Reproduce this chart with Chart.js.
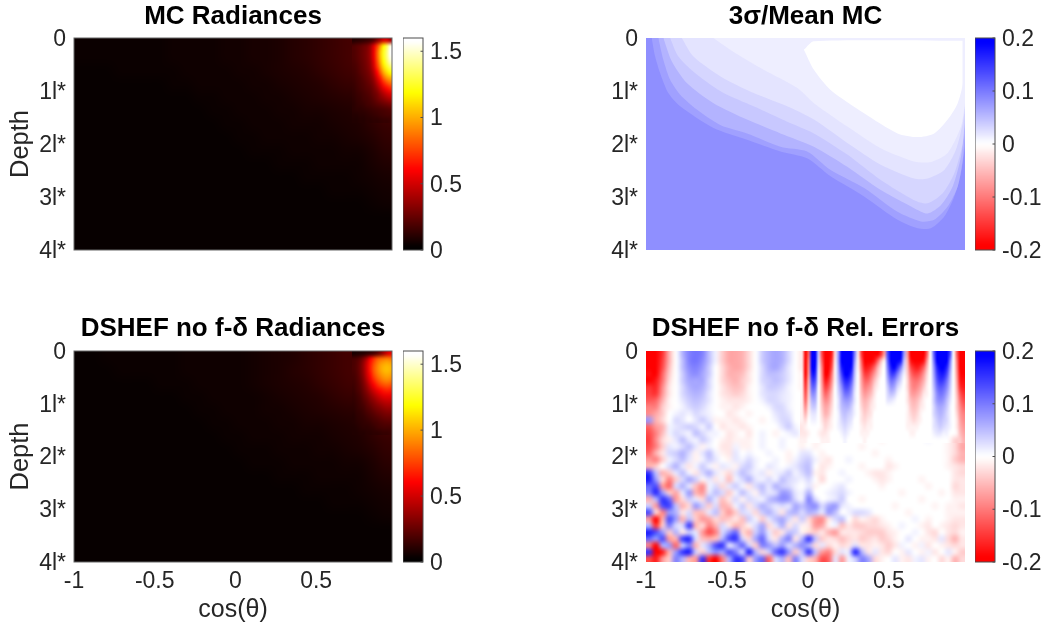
<!DOCTYPE html>
<html><head><meta charset="utf-8">
<style>html,body{margin:0;padding:0;background:#fff;width:1045px;height:628px;overflow:hidden}canvas{position:absolute;display:block}</style>
<script src="https://cdn.jsdelivr.net/npm/chart.js@4"></script>
</head><body>
<script>
const titles = ["MC Radiances", "3σ/Mean MC", "DSHEF no f-δ Radiances", "DSHEF no f-δ Rel. Errors"];
const depthTickLabels = ["0", "1l*", "2l*", "3l*", "4l*"];
const xAxisLabel = "cos(θ)";
const yAxisLabel = "Depth";

// Colour-bar levels, top to bottom
const hotLevels = [1.6,1.55,1.5,1.45,1.4,1.35,1.3,1.25,1.2,1.15,1.1,1.05,1,0.95,0.9,0.85,0.8,0.75,0.7,0.65,0.6,0.55,0.5,0.45,0.4,0.35,0.3,0.25,0.2,0.15,0.1,0.05,0];
const bwrLevels = [20,18,16,14,12,10,8,6,4,2,0,-2,-4,-6,-8,-10,-12,-14,-16,-18,-20];

// Radiances, hundredths: whole panel, cos -1..0.97, depth 0..4
const mcCoarse = [
[2,2,2,2,2,2,2,3,3,3,3,4,4,5,5,6,8,9,11,13,15,17,30,90],
[2,2,2,2,2,2,2,3,3,3,3,4,4,5,5,6,8,9,11,13,15,18,30,100],
[1,1,1,2,2,2,2,2,3,3,3,3,4,4,5,6,7,8,10,12,14,16,28,70],
[1,1,1,1,1,1,1,2,2,3,3,3,3,4,4,5,6,7,8,10,12,13,22,50],
[1,1,1,1,1,1,1,1,1,2,2,3,3,3,4,4,5,6,7,8,9,10,18,32],
[1,1,1,1,1,1,1,1,1,1,2,2,3,3,3,4,4,5,5,6,7,8,12,18],
[1,1,1,1,1,1,1,1,1,1,1,2,2,3,3,3,4,4,4,5,6,7,10,13],
[1,1,1,1,1,1,1,1,1,1,1,1,2,2,3,3,3,3,4,4,5,6,8,11],
[1,1,1,1,1,1,1,1,1,1,1,1,1,2,2,2,3,3,3,3,4,4,6,9],
[1,1,1,1,1,1,1,1,1,1,1,1,1,1,1,2,2,2,3,3,3,3,5,7],
[1,1,1,1,1,1,1,1,1,1,1,1,1,1,1,1,1,2,2,2,2,3,4,5],
[1,1,1,1,1,1,1,1,1,1,1,1,1,1,1,1,1,1,1,2,2,2,3,4],
[1,1,1,1,1,1,1,1,1,1,1,1,1,1,1,1,1,1,1,1,1,1,2,3],
[1,1,1,1,1,1,1,1,1,1,1,1,1,1,1,1,1,1,1,1,1,1,1,1],
[1,1,1,1,1,1,1,1,1,1,1,1,1,1,1,1,1,1,1,1,1,1,1,1],
[1,1,1,1,1,1,1,1,1,1,1,1,1,1,1,1,1,1,1,1,1,1,1,1]];
// Hot-spot corner, hundredths: cos 0.722..0.97, depth 0..1.6
const mcCorner = [
[8,9,10,11,13,15,20,30,40,50,50,40],
[18,20,22,25,28,36,52,72,95,118,135,155],
[18,20,23,26,30,38,55,80,105,125,140,160],
[18,20,23,26,30,38,55,80,105,125,140,158],
[17,19,22,25,29,36,52,76,100,120,135,150],
[16,18,21,24,28,34,48,70,92,112,125,135],
[15,17,20,23,26,31,42,60,80,100,112,120],
[14,16,18,21,24,28,36,50,66,84,96,102],
[13,15,17,19,22,25,31,42,54,68,78,85],
[12,14,16,18,20,22,27,34,44,54,62,68],
[11,13,14,16,18,20,24,28,35,42,48,52],
[10,12,13,15,16,18,21,25,29,33,37,40],
[9,11,12,13,15,16,18,20,22,24,26,28],
[9,10,10,11,12,13,14,15,16,17,18,19],
[8,8,9,9,10,11,12,13,14,15,16,16],
[7,7,8,8,9,9,10,10,11,12,12,13]];
const dsCoarse = [
[1,1,2,2,2,2,2,2,3,3,3,3,3,4,5,6,7,9,11,13,15,16,30,70],
[1,1,1,2,2,2,2,2,3,3,3,3,3,4,5,6,8,9,11,13,15,17,30,80],
[1,1,1,1,1,1,2,2,2,3,3,3,3,4,5,6,7,8,10,12,14,16,28,60],
[1,1,1,1,1,1,1,1,2,2,3,3,3,3,4,5,6,7,8,10,12,13,22,45],
[1,1,1,1,1,1,1,1,1,2,2,3,3,3,4,4,5,6,7,8,9,10,18,30],
[1,1,1,1,1,1,1,1,1,1,2,2,3,3,3,4,4,5,5,6,7,8,12,18],
[1,1,1,1,1,1,1,1,1,1,1,2,2,3,3,3,4,4,4,5,6,7,10,13],
[1,1,1,1,1,1,1,1,1,1,1,1,2,2,2,3,3,3,4,4,5,6,8,11],
[1,1,1,1,1,1,1,1,1,1,1,1,1,2,2,2,3,3,3,3,4,4,6,9],
[1,1,1,1,1,1,1,1,1,1,1,1,1,1,1,2,2,2,3,3,3,3,5,7],
[1,1,1,1,1,1,1,1,1,1,1,1,1,1,1,1,1,2,2,2,2,3,4,5],
[1,1,1,1,1,1,1,1,1,1,1,1,1,1,1,1,1,1,1,2,2,2,3,4],
[1,1,1,1,1,1,1,1,1,1,1,1,1,1,1,1,1,1,1,1,1,1,2,3],
[1,1,1,1,1,1,1,1,1,1,1,1,1,1,1,1,1,1,1,1,1,1,1,1],
[1,1,1,1,1,1,1,1,1,1,1,1,1,1,1,1,1,1,1,1,1,1,1,1],
[1,1,1,1,1,1,1,1,1,1,1,1,1,1,1,1,1,1,1,1,1,1,1,1]];
const dsCorner = [
[5,6,7,8,10,12,15,20,28,38,48,55],
[16,18,22,30,42,58,70,80,85,88,90,88],
[17,20,26,36,50,65,78,88,96,100,102,100],
[17,20,26,36,50,66,80,90,98,103,105,103],
[16,19,25,34,48,62,76,86,93,98,100,98],
[15,18,23,31,43,56,68,78,85,90,92,90],
[14,17,21,28,37,48,58,67,74,78,80,78],
[13,16,19,25,32,40,48,55,61,65,67,66],
[12,14,17,22,27,33,39,45,50,54,55,55],
[11,13,15,19,23,28,32,37,41,44,46,46],
[10,12,14,16,20,23,27,30,33,36,38,38],
[9,11,12,14,17,19,22,25,27,29,31,31],
[8,10,11,12,14,16,18,20,22,24,25,25],
[8,9,10,11,12,13,15,16,18,19,20,20],
[7,8,9,10,10,11,12,14,15,16,16,16],
[7,7,8,8,9,9,10,10,11,12,12,13]];

// Relative errors, hundredths: whole panel, cos -1..0.97, depth 0..4
const errCoarse = [
[-20,-20,-16,-6,0,6,10,11,10,5,1,-4,-7,-7,-6,-3,0,4,6,7,6,3,0,-2,0,0,0,0,0,0,0,0,0,0,0,0,0,0,0,0,0,0,0,0,0,0,0,0],
[-20,-20,-15,-6,0,5,10,11,9,5,1,-4,-7,-7,-6,-3,0,4,6,7,6,3,0,-2,0,0,0,0,0,0,0,0,0,0,0,0,0,0,0,0,0,0,0,0,0,0,0,0],
[-20,-20,-14,-5,0,5,9,10,8,4,0,-3,-6,-7,-6,-3,0,3,6,7,5,2,0,-2,0,0,0,0,0,0,0,0,0,0,0,0,0,0,0,0,0,0,0,0,0,0,0,0],
[-19,-20,-12,-4,0,4,8,9,7,4,0,-3,-6,-6,-5,-2,0,3,5,5,4,2,0,-1,0,0,0,0,0,0,0,0,0,0,0,0,0,0,0,0,0,0,0,0,0,0,0,0],
[-20,-18,-11,-3,0,4,7,7,7,3,0,-3,-5,-6,-4,-2,0,3,4,5,4,2,0,-1,0,0,0,0,0,0,0,0,0,0,0,0,0,0,0,0,0,0,0,0,0,0,0,0],
[-16,-17,-9,-2,0,3,6,7,6,3,0,-2,-4,-5,-4,-1,0,2,4,4,3,1,0,-1,0,0,0,0,0,0,0,0,0,0,0,0,0,0,0,0,0,0,0,0,0,0,0,0],
[-15,-16,-8,-2,0,3,5,6,5,2,0,-2,-3,-4,-3,-1,0,2,3,3,2,1,0,0,0,0,0,0,0,0,0,0,0,0,0,0,0,0,0,0,0,0,0,0,0,0,0,0],
[-13,-12,-6,-1,0,2,4,5,4,2,0,-1,-2,-2,-2,-1,0,1,3,3,2,1,0,0,0,0,0,0,0,0,0,0,0,0,0,0,0,0,0,0,0,0,0,0,0,0,0,0],
[-10,-10,-4,-1,0,1,3,4,3,1,0,-1,-1,-2,-1,0,0,0,1,3,3,1,0,0,0,0,0,0,0,0,0,0,0,0,0,0,0,0,0,0,0,0,0,0,0,0,0,0],
[-9,-7,-4,0,1,2,1,3,2,1,0,0,-2,-1,0,-1,0,0,0,2,3,2,0,0,0,0,0,0,0,0,0,0,0,0,0,0,0,0,0,0,0,0,0,0,0,0,-3,-6],
[8,-6,-3,0,3,2,0,2,4,2,-1,-1,-1,-2,-1,0,0,-1,0,1,3,3,0,0,0,0,0,0,0,0,0,0,0,0,0,0,0,0,0,0,0,0,0,0,0,-1,-3,-6],
[-12,-8,-6,1,2,3,4,3,1,4,0,-2,-1,-1,-2,-1,0,0,0,0,2,4,1,0,0,-1,-1,-1,-1,0,0,0,0,0,0,0,0,0,0,0,0,1,1,1,1,0,-3,-5],
[-14,-10,-5,1,3,2,1,5,3,1,1,0,-2,-1,0,-2,0,1,0,-1,0,1,2,0,0,-1,-2,-1,-1,0,0,0,0,0,0,0,0,0,0,0,0,0,1,1,0,-1,-3,-5],
[-15,-9,-3,-1,2,5,2,1,4,2,0,-1,-2,-1,-1,-1,0,1,0,0,1,0,0,-1,0,-1,-1,0,0,0,0,0,0,0,0,-1,0,0,0,0,0,0,1,0,0,-1,-3,-6],
[-14,-10,-4,2,1,3,5,2,-1,1,0,-2,-2,1,-1,-1,0,1,0,0,1,0,0,-1,0,-1,0,0,0,0,0,0,-1,0,0,0,0,0,0,0,0,0,0,0,0,-1,-3,-7],
[-12,-6,-2,3,4,6,3,-1,2,5,1,-1,-2,2,0,1,0,0,1,0,0,-1,0,2,2,0,-1,0,0,0,0,0,0,0,-1,0,0,0,0,0,0,0,0,0,0,-1,-3,-6],
[-8,-10,-4,1,3,5,2,-1,1,4,2,0,-1,2,1,3,1,0,0,1,0,-1,1,3,4,1,-1,-2,0,0,1,0,0,0,0,0,-1,0,0,0,0,0,0,0,0,-1,-4,-6],
[-6,-4,0,3,6,2,-2,1,4,1,-1,2,1,-1,3,4,1,0,2,1,0,1,2,4,5,0,-2,-1,0,0,0,0,-1,0,0,0,-2,-1,0,0,0,0,0,0,0,-1,-2,-3],
[16,5,-6,-4,2,5,1,-2,3,6,2,-1,-3,2,5,3,1,2,-1,1,2,4,1,3,5,-1,-2,0,0,1,0,0,0,-1,-2,-2,-1,0,0,0,0,0,0,0,0,0,-2,-3],
[18,8,-3,-10,-4,3,7,4,-1,2,-2,1,-5,1,3,6,2,1,3,1,5,3,2,1,3,0,-3,0,0,0,1,0,0,0,-1,-2,-1,0,0,0,0,-1,0,0,0,0,-2,-2],
[12,14,-8,-12,3,6,2,-5,-9,1,3,-3,2,4,1,-2,3,5,2,6,4,3,1,0,2,-1,0,0,1,2,0,0,0,0,0,-1,0,0,0,0,0,0,-1,0,0,0,-3,-2],
[10,17,8,-4,-7,2,8,-6,-8,2,5,3,-4,1,5,2,-1,4,2,3,8,7,2,1,6,0,0,1,2,3,1,0,0,0,0,0,0,0,-1,0,0,0,0,0,-1,0,-2,-2],
[-6,6,16,12,-8,-3,4,2,-3,6,2,-5,-2,3,-1,3,2,1,5,7,9,8,3,1,10,3,0,1,2,4,0,0,-1,0,0,0,0,0,0,0,0,-1,0,0,0,0,-1,-1],
[4,-8,14,15,5,-6,-3,8,4,-4,3,-6,-5,1,4,-2,3,6,4,2,3,2,7,5,8,9,3,7,8,2,1,0,0,0,0,0,0,-1,0,0,0,0,0,-1,0,-1,-1,-2],
[14,-3,-10,8,6,-2,3,-5,-5,2,5,-4,-8,-4,3,2,-3,4,6,3,-2,5,6,3,6,5,2,8,5,0,1,3,3,2,0,0,0,0,0,-1,0,0,0,0,0,-1,-1,-1],
[-8,-20,-6,14,8,-6,5,-4,-8,-7,-3,-5,-4,-2,-5,4,1,-4,2,5,7,3,-2,4,-3,-8,-9,-2,3,5,0,-3,-1,-2,-3,-1,0,0,0,0,1,0,-1,0,0,-1,-2,-2],
[6,-16,-4,10,3,3,16,-6,-3,-10,-6,3,-2,-6,-4,-1,3,7,-3,2,6,-2,3,-1,-2,-8,-7,-1,1,-5,-2,-4,-4,-3,-3,-2,-1,0,1,0,0,-1,-2,0,-1,-2,-3,-2],
[18,14,8,-4,6,-2,4,2,-8,-14,-10,3,8,12,-3,-6,4,8,2,-4,-2,5,4,-1,-3,-4,-2,-6,-8,-2,-2,-2,-3,-4,-4,-4,-2,-1,0,0,1,0,-2,-3,0,-2,-3,-1],
[12,8,14,-8,-6,15,17,3,-5,-6,-5,6,14,16,4,-3,7,12,3,-2,6,10,-2,6,16,5,-4,-2,-3,-5,-3,-2,-4,-3,-2,-4,-3,-1,0,2,0,-1,-1,-2,2,-3,-6,-2],
[-10,-20,6,8,-12,4,10,-6,2,6,14,16,2,6,12,4,-4,10,8,5,8,3,6,9,6,-3,2,-3,-1,-3,-2,3,-2,-2,-1,-2,-4,-2,1,0,-1,1,-2,0,-1,-2,-3,-2],
[16,-20,-18,-6,8,16,18,4,-4,5,9,7,14,10,3,18,6,-3,4,12,16,8,-4,5,16,5,-8,-10,-3,2,2,18,6,-2,2,-2,-3,0,-1,2,0,-1,1,-2,0,2,-1,-4],
[-14,-18,-8,-4,10,6,-6,-8,16,-16,-20,-10,6,16,14,-4,8,12,-12,3,6,-5,10,3,-4,-6,-14,-12,2,-8,1,4,10,7,-3,-1,0,2,-1,-2,1,2,-1,0,-3,-1,-6,-3]];
// Near-surface stripes, hundredths: cos -0.046..0.97, depth 0..1.75
const errStripes = [
[-2,-20,-12,20,20,4,-14,-20,-20,-18,-3,8,20,20,20,20,10,-2,-15,-20,-20,-20,-20,-20,-16,-8,14,20,20,20,20,8,-8,-20,-20,-20,-20,-20,-12,0,12,20,20,20,20,14,0,-12,-20,-20],
[-2,-20,-10,20,20,3,-12,-20,-20,-16,-2,8,20,20,20,20,8,-1,-12,-20,-20,-20,-18,-12,-5,-1,12,20,20,20,18,5,-6,-18,-20,-20,-20,-18,-8,0,10,20,20,20,20,10,0,-10,-20,-20],
[-2,-20,-9,20,19,2,-10,-20,-20,-14,-1,7,18,20,20,19,6,-1,-10,-18,-18,-16,-12,-6,-2,0,10,18,20,16,10,3,-5,-14,-17,-18,-16,-12,-5,0,8,17,20,20,17,8,0,-9,-20,-20],
[-1,-20,-8,18,17,1,-9,-20,-19,-11,-1,6,15,20,20,16,5,0,-8,-15,-15,-12,-8,-4,-1,0,8,15,15,10,5,1,-4,-11,-14,-14,-12,-8,-3,0,7,15,18,18,14,6,0,-8,-19,-20],
[-1,-18,-6,15,14,1,-8,-18,-16,-9,-1,5,12,17,17,13,4,0,-7,-12,-12,-9,-5,-2,0,0,6,11,10,6,3,0,-3,-9,-11,-11,-9,-6,-2,0,6,13,16,15,11,5,0,-7,-18,-19],
[-1,-16,-5,12,11,0,-7,-15,-13,-7,0,4,9,14,14,10,3,0,-6,-10,-9,-7,-3,-1,0,0,4,8,7,3,1,0,-3,-8,-10,-9,-7,-4,-1,0,5,11,13,12,9,4,0,-6,-16,-18],
[-1,-14,-4,9,8,0,-6,-12,-10,-5,0,3,7,11,11,8,2,0,-5,-8,-7,-5,-2,0,0,0,3,5,4,1,0,0,-2,-7,-8,-7,-5,-2,-1,0,4,9,11,10,7,3,0,-5,-13,-16],
[-1,-12,-3,6,6,0,-5,-9,-8,-4,0,2,6,8,8,6,2,0,-4,-6,-5,-3,-1,0,0,0,2,2,1,0,0,0,-2,-5,-6,-5,-3,-1,0,0,4,8,9,8,5,2,0,-4,-11,-14],
[-1,-9,-2,4,4,0,-4,-7,-6,-3,0,2,5,6,6,4,1,0,-3,-5,-4,-2,-1,0,0,0,0,0,0,0,0,0,-1,-4,-5,-4,-2,-1,0,0,3,6,7,6,4,1,0,-4,-9,-12],
[-1,-6,-1,2,2,0,-3,-6,-5,-2,0,1,4,5,4,3,1,0,-2,-4,-3,-2,0,0,0,0,0,0,0,0,0,0,-1,-3,-4,-3,-1,0,0,0,3,5,6,5,3,1,0,-3,-8,-10],
[-1,-3,0,1,1,0,-2,-4,-3,-1,0,1,3,4,3,2,0,0,-2,-3,-2,-1,0,0,0,0,0,0,0,0,0,0,-1,-2,-3,-2,-1,0,0,0,2,4,5,4,3,1,0,-2,-7,-9],
[-2,-1,0,0,0,0,-1,-3,-2,-1,0,1,2,3,2,1,0,0,-1,-2,-1,-1,0,0,0,0,0,0,0,0,0,0,-1,-1,-1,-1,0,0,0,0,2,3,4,3,2,1,0,-2,-6,-8],
[-2,-2,-1,0,0,-1,-2,-2,-1,0,0,0,1,2,1,0,0,0,-1,-1,-1,0,0,0,0,0,0,0,0,0,0,0,0,-1,-1,0,0,0,0,0,1,2,2,1,1,0,0,-1,-5,-7],
[-1,-1,0,0,0,0,-1,-1,-1,0,0,0,0,1,0,0,0,0,0,-1,0,0,0,0,0,0,0,0,0,0,0,0,0,0,0,0,0,0,0,0,0,0,0,0,0,-1,-3,-4,-4,-6]];

// 3σ/mean band boundaries: depth where each level is crossed, at the paired cos values
const whiteCos  = [-0.025,0.037,0.14,0.347,0.553,0.677,0.78,0.863,0.925,0.956,0.956];
const whiteDep  = [0.22,0.6,0.98,1.42,1.8,1.87,1.8,1.54,1.23,0.85,0];
const stripCos  = [-0.025,0.037,0.956,0.97];
const stripDep  = [0.22,0.06,0.05,0.05];
const bandFCos  = [-0.583,-0.48,-0.273,-0.067,0.037,0.243,0.45,0.656,0.76,0.863,0.945,0.97];
const bandFDep  = [0,0.22,0.6,0.94,1.23,1.67,2.08,2.33,2.34,2.17,1.67,1.23];
const bandECos  = [-0.779,-0.707,-0.542,-0.335,-0.128,0.037,0.243,0.45,0.656,0.739,0.842,0.914,0.956,0.97];
const bandEDep  = [0,0.35,0.72,1.04,1.29,1.54,1.98,2.39,2.65,2.65,2.49,2.11,1.61,1.29];
const bandDCos  = [-0.851,-0.8,-0.686,-0.521,-0.335,-0.128,0.037,0.243,0.45,0.656,0.739,0.832,0.904,0.956,0.97];
const bandDDep  = [0,0.35,0.69,1.04,1.29,1.58,1.8,2.2,2.68,3.06,3.12,2.93,2.55,1.98,1.42];
const bandCCos  = [-0.893,-0.841,-0.748,-0.583,-0.376,-0.17,0.037,0.243,0.45,0.656,0.739,0.822,0.894,0.945,0.97];
const bandCDep  = [0,0.44,0.85,1.23,1.54,1.8,2.05,2.43,2.87,3.21,3.31,3.15,2.8,2.24,1.61];
const bandBCos  = [-0.924,-0.893,-0.851,-0.789,-0.686,-0.542,-0.376,-0.17,-0.005,0.14,0.347,0.553,0.698,0.78,0.863,0.925,0.956,0.97];
const bandBDep  = [0,0.41,0.79,1.07,1.35,1.64,1.8,2.05,2.14,2.49,2.83,3.28,3.46,3.43,3.18,2.8,2.3,1.8];
const bandACos  = [-0.965,-0.944,-0.913,-0.862,-0.789,-0.583,-0.376,-0.17,-0.005,0.14,0.347,0.553,0.677,0.76,0.842,0.904,0.945,0.97];
const bandADep  = [0,0.346,0.66,1.04,1.29,1.7,1.92,2.14,2.27,2.61,2.99,3.43,3.59,3.59,3.37,2.99,2.55,2.05];
const baseCos   = [-1,0.97];
const baseDep   = [4,4];
const bandLevels = {strip:1.33, white:0, F:1.33, E:2.1, D:3.2, C:4.3, B:6, A:7.45, base:8.8};

const FONT = '"Liberation Sans", Arial, Helvetica, sans-serif';
const INK = '#262626';
Chart.defaults.font.family = FONT;
Chart.defaults.animation = false;

const clamp01 = t => Math.max(0, Math.min(1, t));
function hot(v){ const t = clamp01(v/1.6);
  const r = clamp01(0.0104 + t/0.375*0.9896), g = clamp01((t-0.375)/0.375), b = clamp01((t-0.75)/0.25);
  return [r*255, g*255, b*255]; }
function bwr(v){ const t = clamp01(Math.abs(v)/0.2), o = 255*(1-t);
  return v>=0 ? [o,o,255] : [255,o,o]; }
const css = c => `rgb(${c.map(Math.round).join(',')})`;

class HeatController extends Chart.ScatterController {
  draw(){
    const ds = this.getDataset(), meta = this.getMeta();
    const nR = ds.grid.length, nC = ds.grid[0].length;
    const off = document.createElement('canvas'); off.width = nC; off.height = nR;
    const octx = off.getContext('2d'), img = octx.createImageData(nC, nR);
    ds.data.forEach((p,i)=>{ const c = ds.colormap(p.v); img.data.set([c[0],c[1],c[2],255], i*4); });
    octx.putImageData(img,0,0);
    const xs = meta.xScale, ys = meta.yScale, e = ds.extent;
    const L = xs.getPixelForValue(e[0]), R = xs.getPixelForValue(e[1]);
    const T = ys.getPixelForValue(e[2]), B = ys.getPixelForValue(e[3]);
    const ctx = this.chart.ctx;
    ctx.save(); ctx.imageSmoothingEnabled = true; ctx.imageSmoothingQuality = 'high';
    ctx.drawImage(off, L, T, R-L, B-T); ctx.restore();
  }
}
HeatController.id = 'heat';
HeatController.defaults = Object.assign({}, Chart.ScatterController.defaults);
Chart.register(HeatController);

function heat(grid, extent, colormap, scale){
  const nR = grid.length, nC = grid[0].length, data = [];
  grid.forEach((row,r)=>row.forEach((val,c)=>data.push({
    x: extent[0]+(c+0.5)*(extent[1]-extent[0])/nC,
    y: extent[2]+(r+0.5)*(extent[3]-extent[2])/nR,
    v: val*scale })));
  return {type:'heat', data, grid, extent, colormap, pointRadius:0, pointHoverRadius:0};
}
function band(cos, dep, level){
  return {type:'line', data:cos.map((x,i)=>({x, y:dep[i]})), borderWidth:0, pointRadius:0, tension:0.25,
          fill:{value:0}, backgroundColor:css(bwr(level/100)), borderColor:'rgba(0,0,0,0)'};
}
// Tick labels sit slightly below the tick in the reference.
function nudgeLabels(s){
  if(s._nudged) return; s._nudged = true;
  const orig = s._computeLabelItems;
  s._computeLabelItems = function(ca){ const items = orig.call(this, ca);
    items.forEach(it=>{ if(it.options && it.options.translation) it.options.translation[1] += 1.5; });
    return items; };
}
const framePlugin = {id:'frame', afterDatasetsDraw(chart, a, o){
  const {left,right,top,bottom} = chart.chartArea, ctx = chart.ctx;
  ctx.save();
  if(o.border){ ctx.strokeStyle = o.border; ctx.lineWidth = 1; ctx.strokeRect(left,top,right-left,bottom-top); }
  if(o.ticks){ const s = chart.scales.y; ctx.strokeStyle = o.border; ctx.beginPath();
    s.ticks.forEach(t=>{ const y = s.getPixelForValue(t.value); ctx.moveTo(right,y); ctx.lineTo(right-2.5,y); }); ctx.stroke(); }
  ctx.restore();
}};
function place(x,y,w,h){ const c = document.createElement('canvas'); c.width=w; c.height=h;
  c.style.cssText=`left:${x}px;top:${y}px;width:${w}px;height:${h}px`; document.body.appendChild(c); return c; }

function panel(o){
  const bottomRow = o.row===1;
  const canvasTop = bottomRow?310:0, canvasH = bottomRow?318:300;
  const canvas = place(o.left-74, canvasTop, o.width+74+5, canvasH);
  new Chart(canvas,{type:'scatter',data:{datasets:o.datasets},plugins:[framePlugin],options:{
    responsive:false, animation:false, events:[],
    layout:{padding:{left:0,right:5,top:0,bottom:bottomRow?0:50}},
    plugins:{legend:{display:false},tooltip:{enabled:false},
      frame:{border:o.border,ticks:false},
      title:{display:true,text:o.title,fullSize:false,color:'#000',
        font:{size:26,weight:'bold',family:FONT,lineHeight:1.2},
        padding:bottomRow?{top:3.4,bottom:6.4}:{top:1.4,bottom:5.4}}},
    scales:{
      x:{type:'linear',min:-1,max:0.97,display:bottomRow,
         grid:{display:false,drawTicks:false},border:{display:false},
         afterFit:s=>{s.height=bottomRow?66:0;},
         ticks:{stepSize:0.5,includeBounds:false,maxRotation:0,autoSkip:false,padding:6,color:INK,font:{size:23},callback:v=>String(v)},
         title:{display:bottomRow,text:xAxisLabel,color:INK,font:{size:25},padding:{top:0,bottom:3}}},
      y:{type:'linear',min:0,max:4,reverse:true,
         grid:{display:false,drawTicks:false},border:{display:false},
         afterFit:s=>{s.width=74;nudgeLabels(s);},
         ticks:{stepSize:1,padding:8,color:INK,font:{size:23},callback:v=>depthTickLabels[v]},
         title:{display:o.yTitle,text:yAxisLabel,color:INK,font:{size:25.5},padding:{top:6,bottom:6}}}
    }}});
}
function colorbar(o){
  const canvasTop = o.row===1?310:0, padTop = o.row===1?41:38, padBot = o.row===1?66:50, h = o.row===1?318:300;
  const canvas = place(o.left, canvasTop, 1045-o.left>70?70:1045-o.left, h);
  const grid = o.levels.map(v=>[v]);
  new Chart(canvas,{type:'scatter',data:{datasets:[heat(grid,[0,1,o.max,o.min],o.colormap,o.scale)]},plugins:[framePlugin],options:{
    responsive:false, animation:false, events:[],
    layout:{padding:{left:0,right:0,top:padTop,bottom:padBot}},
    plugins:{legend:{display:false},tooltip:{enabled:false},title:{display:false},frame:{border:'#4d4d4d',ticks:true}},
    scales:{
      x:{type:'linear',min:0,max:1,display:false},
      y:{type:'linear',position:'right',min:o.min,max:o.max,
         grid:{display:false,drawTicks:false},border:{display:false},
         afterFit:s=>{s.width=canvas.width-20;nudgeLabels(s);},
         ticks:{stepSize:o.step,includeBounds:false,padding:7,color:INK,font:{size:23},callback:v=>String(+v.toFixed(1))}}
    }}});
}

const FULL=[-1,0.97,0,4], CORNER=[0.722,0.97,0,1.6], STRIPES=[-0.046,0.97,0,1.75];
panel({row:0,left:74,width:318,title:titles[0],yTitle:true,border:'#666',datasets:[
  heat(mcCorner,CORNER,hot,0.01), heat(mcCoarse,FULL,hot,0.01)]});
panel({row:0,left:646,width:319,title:titles[1],yTitle:false,datasets:[
  band(stripCos,stripDep,bandLevels.strip), band(whiteCos,whiteDep,bandLevels.white),
  band(bandFCos,bandFDep,bandLevels.F), band(bandECos,bandEDep,bandLevels.E),
  band(bandDCos,bandDDep,bandLevels.D), band(bandCCos,bandCDep,bandLevels.C),
  band(bandBCos,bandBDep,bandLevels.B), band(bandACos,bandADep,bandLevels.A),
  band(baseCos,baseDep,bandLevels.base)]});
panel({row:1,left:74,width:318,title:titles[2],yTitle:true,border:'#666',datasets:[
  heat(dsCorner,CORNER,hot,0.01), heat(dsCoarse,FULL,hot,0.01)]});
panel({row:1,left:646,width:319,title:titles[3],yTitle:false,datasets:[
  heat(errStripes,STRIPES,bwr,0.01), heat(errCoarse,FULL,bwr,0.01)]});
colorbar({row:0,left:403,levels:hotLevels,colormap:hot,scale:1,min:0,max:1.6,step:0.5});
colorbar({row:1,left:403,levels:hotLevels,colormap:hot,scale:1,min:0,max:1.6,step:0.5});
colorbar({row:0,left:975,levels:bwrLevels,colormap:bwr,scale:0.01,min:-0.2,max:0.2,step:0.1});
colorbar({row:1,left:975,levels:bwrLevels,colormap:bwr,scale:0.01,min:-0.2,max:0.2,step:0.1});
</script>
</body></html>
